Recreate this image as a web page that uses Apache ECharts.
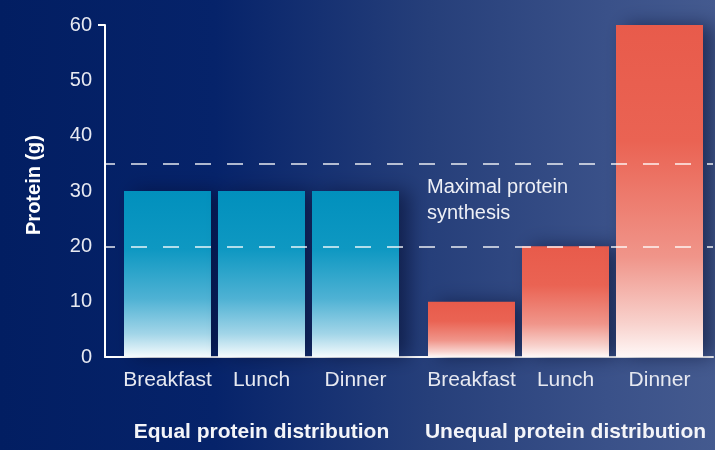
<!DOCTYPE html>
<html>
<head>
<meta charset="utf-8">
<style>
  html, body { margin: 0; padding: 0; }
  #chart { width: 715px; height: 450px; }
</style>
<script src="https://cdn.jsdelivr.net/npm/echarts@6/dist/echarts.min.js"></script>
</head>
<body>
<div id="chart"></div>
<script>
// Meals shown in each group
const mealLabels = ['Breakfast', 'Lunch', 'Dinner'];
// Protein per meal (g)
const equalProtein = [30, 30, 30];
const unequalProtein = [10, 20, 60];
// Group captions under the meal labels
const groupNames = ['Equal protein distribution', 'Unequal protein distribution'];
// Y axis range and step (g)
const yMin = 0;
const yMax = 60;
const yStep = 10;
// Dashed reference levels (g)
const referenceLevels = [35, 20];
const referenceText = 'Maximal protein\nsynthesis';

const FONT = '"Liberation Sans", Arial, sans-serif';
const LABEL_COLOR = '#e7e9f1';

const chart = echarts.init(document.getElementById('chart'));

const grad = (stops) => new echarts.graphic.LinearGradient(0, 0, 0, 1, stops);

const blueFill = grad([
  { offset: 0, color: '#0190bd' },
  { offset: 0.35, color: '#0e98c2' },
  { offset: 0.65, color: '#4fb2d4' },
  { offset: 0.86, color: '#a2d5e8' },
  { offset: 1, color: '#f5fbfd' }
]);
const redFill = grad([
  { offset: 0, color: '#e85b4b' },
  { offset: 0.35, color: '#ea6353' },
  { offset: 0.7, color: '#f0958a' },
  { offset: 0.9, color: '#f8d2cd' },
  { offset: 1, color: '#fff8f7' }
]);

const barShadow = {
  shadowColor: 'rgba(4, 12, 45, 0.55)',
  shadowBlur: 18,
  shadowOffsetX: 10,
  shadowOffsetY: 0
};

const hiddenY = (grid) => ({
  type: 'value', gridIndex: grid, min: yMin, max: yMax, interval: yStep, show: false
});

const groupAxis = (grid, name) => ({
  type: 'category',
  gridIndex: grid,
  data: mealLabels,
  axisLine: { show: false },
  axisTick: { show: false },
  axisLabel: { interval: 0, color: LABEL_COLOR, fontSize: 21, fontFamily: FONT, margin: 13 },
  name: name,
  nameLocation: 'middle',
  nameGap: 65,
  nameTextStyle: { color: '#f4f5f9', fontSize: 21, fontWeight: 'bold', fontFamily: FONT }
});

const option = {
  animation: false,
  backgroundColor: new echarts.graphic.LinearGradient(0, 0, 1, 0, [
    { offset: 0, color: '#021e62' },
    { offset: 0.3, color: '#06236a' },
    { offset: 0.6, color: '#263f7a' },
    { offset: 0.85, color: '#3a5189' },
    { offset: 1, color: '#445a8f' }
  ]),
  grid: [
    { left: 105, right: 2, top: 25, bottom: 93 },
    { left: 120.5, width: 282, top: 25, bottom: 93 },
    { left: 424.5, width: 282, top: 25, bottom: 93 }
  ],
  xAxis: [
    {
      type: 'value', gridIndex: 0, min: 0, max: 1,
      axisLine: { show: true, lineStyle: { color: '#ffffff', width: 2 } },
      axisTick: { show: false }, axisLabel: { show: false }, splitLine: { show: false }
    },
    groupAxis(1, groupNames[0]),
    groupAxis(2, groupNames[1])
  ],
  yAxis: [
    {
      type: 'value', gridIndex: 0, min: yMin, max: yMax, interval: yStep,
      axisLine: { show: true, lineStyle: { color: '#ffffff', width: 2 } },
      axisTick: { show: true, customValues: [yMax], length: 7, lineStyle: { color: '#ffffff', width: 2 } },
      axisLabel: { color: LABEL_COLOR, fontSize: 20, fontFamily: FONT, margin: 13 },
      splitLine: { show: false },
      name: 'Protein (g)',
      nameLocation: 'middle',
      nameGap: 61,
      nameTextStyle: { color: '#ffffff', fontSize: 20, fontWeight: 'bold', fontFamily: FONT, padding: [0, 0, 0, 12] }
    },
    hiddenY(1),
    hiddenY(2)
  ],
  series: [
    {
      name: groupNames[0],
      type: 'bar',
      xAxisIndex: 1, yAxisIndex: 1,
      data: equalProtein,
      barWidth: 87,
      z: 2,
      itemStyle: Object.assign({ color: blueFill }, barShadow)
    },
    {
      name: groupNames[1],
      type: 'bar',
      xAxisIndex: 2, yAxisIndex: 2,
      data: unequalProtein,
      barWidth: 87,
      z: 2,
      itemStyle: Object.assign({ color: redFill }, barShadow)
    },
    {
      name: 'reference',
      type: 'line',
      xAxisIndex: 0, yAxisIndex: 0,
      data: [],
      z: 6,
      markLine: {
        silent: true,
        symbol: 'none',
        label: { show: false },
        lineStyle: { color: 'rgba(255,255,255,0.9)', width: 1.5, type: [16, 16], dashOffset: 6 },
        data: referenceLevels.map(v => ({ yAxis: v }))
      }
    }
  ],
  graphic: [
    {
      type: 'text',
      left: 427,
      top: 174,
      z: 10,
      style: {
        text: referenceText,
        fill: '#eef0f6',
        font: '20px ' + FONT,
        lineHeight: 26
      }
    }
  ]
};

chart.setOption(option);
</script>
</body>
</html>
